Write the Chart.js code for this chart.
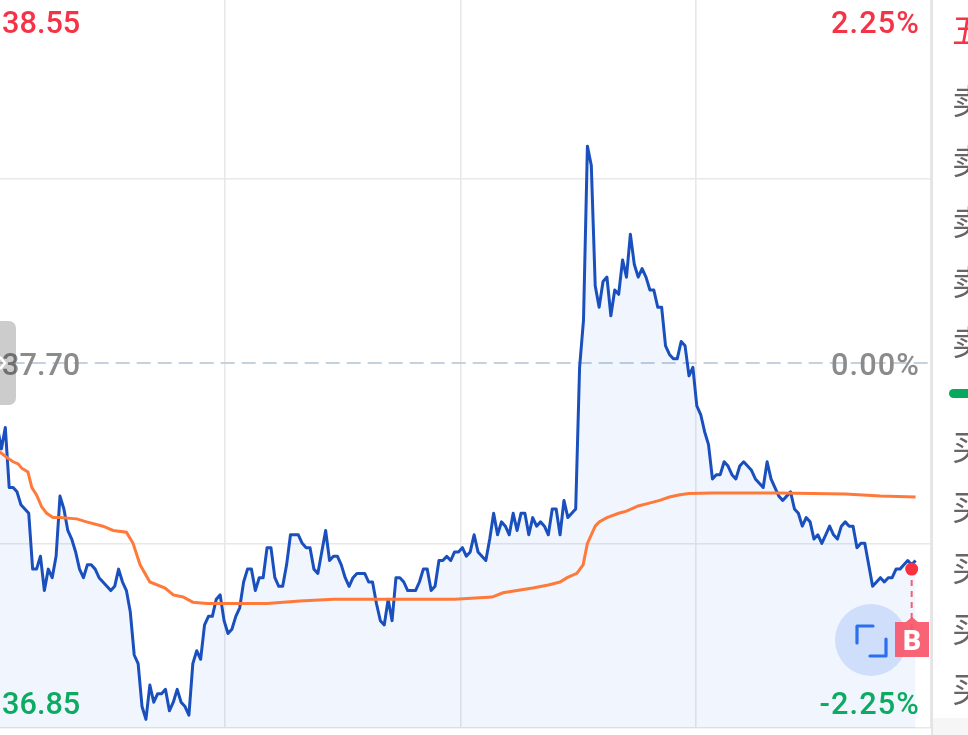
<!DOCTYPE html>
<html>
<head>
<meta charset="utf-8">
<script src="https://cdn.jsdelivr.net/npm/chart.js@4"></script>
<style>
html,body{margin:0;padding:0;width:968px;height:735px;overflow:hidden;background:#fff;font-family:Roboto,sans-serif}
#c{position:absolute;left:-20px;top:-10px}
.o{position:absolute}
#divider{left:931px;top:0;width:2px;height:735px;background:#e4e4e4}
#panel{left:933px;top:0;width:35px;height:735px;background:#fff}
#corner{left:933px;top:718px;width:35px;height:17px;background:#f6f6f6}
#handle{left:-8px;top:321px;width:24px;height:84px;border-radius:7px;background:rgba(0,0,0,.2)}
#pill{left:949px;top:389px;width:30px;height:9px;border-radius:4.5px;background:#0aa85e}
.q{position:absolute;left:952px;width:80px;height:40px;font:34px/40px "Noto Sans CJK SC";color:#666;white-space:nowrap}
</style>
</head>
<body>
<canvas id="c" width="960" height="745"></canvas>
<div id="divider" class="o"></div>
<div id="panel" class="o"></div>
<div id="corner" class="o"></div>
<div id="handle" class="o"></div>
<div id="pill" class="o"></div>
<svg class="o" style="left:0;top:350px" width="8" height="26"><path d="M0 7 L5 13 L0 19" fill="none" stroke="#fff" stroke-width="2.5"/></svg>
<svg class="o" style="left:833px;top:602px" width="80" height="80">
  <circle cx="38" cy="38" r="36" fill="#cfdffb"/>
  <path d="M40 24 H24 V41 M53 37 V54 H37" fill="none" stroke="#2a70ee" stroke-width="3.2" stroke-linecap="round" stroke-linejoin="round"/>
</svg>
<svg class="o" style="left:894px;top:612px" width="36" height="48">
  <path d="M1 10 H12 L18 5 L24 10 H35 V45 H1 Z" fill="#f9566a" fill-opacity=".92"/>
  <text x="18" y="38" text-anchor="middle" font-family="Roboto" font-weight="900" font-size="28" fill="#fff">B</text>
</svg>
<div class="q" style="top:9px;color:#f53246">五档</div>
<div class="q" style="top:80px">卖五</div>
<div class="q" style="top:140px">卖四</div>
<div class="q" style="top:201px">卖三</div>
<div class="q" style="top:261px">卖二</div>
<div class="q" style="top:321px">卖一</div>
<div class="q" style="top:426px">买一</div>
<div class="q" style="top:486px">买二</div>
<div class="q" style="top:547px">买三</div>
<div class="q" style="top:608px">买四</div>
<div class="q" style="top:668px">买五</div>
<script>
// Price per minute
const priceValues = [
37.52,37.53,37.55,37.50,37.55,37.41,37.41,37.40,37.37,37.36,
37.35,37.22,37.22,37.25,37.17,37.22,37.20,37.25,37.39,37.36,
37.31,37.29,37.26,37.22,37.20,37.23,37.23,37.22,37.20,37.19,
37.18,37.17,37.18,37.22,37.19,37.17,37.12,37.02,37.00,36.90,
36.87,36.95,36.91,36.93,36.93,36.94,36.89,36.91,36.94,36.91,
36.90,36.88,37.00,37.03,37.01,37.09,37.11,37.11,37.15,37.16,
37.10,37.07,37.08,37.11,37.13,37.19,37.22,37.22,37.17,37.20,
37.20,37.27,37.27,37.20,37.18,37.18,37.23,37.30,37.30,37.30,
37.28,37.27,37.27,37.22,37.21,37.26,37.31,37.24,37.25,37.25,
37.23,37.20,37.18,37.20,37.21,37.21,37.21,37.19,37.19,37.14,
37.10,37.09,37.15,37.10,37.20,37.20,37.19,37.17,37.17,37.17,
37.19,37.22,37.22,37.17,37.18,37.24,37.24,37.25,37.24,37.26,
37.26,37.27,37.25,37.26,37.30,37.26,37.25,37.24,37.29,37.35,
37.30,37.33,37.32,37.30,37.35,37.31,37.35,37.35,37.30,37.34,
37.32,37.33,37.32,37.30,37.36,37.36,37.30,37.38,37.34,37.35,
37.36,37.69,37.80,38.205,38.16,37.88,37.83,37.89,37.90,37.81,
37.87,37.86,37.94,37.90,38.00,37.93,37.90,37.92,37.90,37.87,
37.87,37.83,37.83,37.74,37.72,37.71,37.71,37.75,37.74,37.67,
37.69,37.60,37.58,37.54,37.51,37.43,37.44,37.44,37.47,37.46,
37.44,37.43,37.46,37.47,37.46,37.45,37.43,37.42,37.41,37.47,
37.43,37.41,37.39,37.38,37.39,37.40,37.36,37.35,37.32,37.34,
37.33,37.29,37.30,37.28,37.30,37.32,37.30,37.29,37.32,37.33,
37.32,37.32,37.27,37.28,37.28,37.23,37.18,37.19,37.20,37.19,
37.20,37.20,37.22,37.22,37.23,37.24,37.23,37.24
];
// Average price line, read at the minutes where its shape changes
const avgMinutes = [0,3,4.4,6,7.3,8.2,9.8,10.8,12,13.3,14.6,16.2,18,22.3,24.8,29,31.6,35,36.7,38.5,41,44.9,47,49.5,52,55.6,62,71,79.4,88,99,119,128.6,131.4,139,143,146,147.8,150.3,151.9,153,155,156,158,161,163,166,168.6,171.5,174,176.7,179,185,202,219,228,237];
const avgValues  = [37.51,37.49,37.48,37.47,37.465,37.455,37.446,37.41,37.393,37.365,37.35,37.34,37.34,37.337,37.33,37.32,37.31,37.306,37.28,37.23,37.19,37.176,37.16,37.155,37.143,37.14,37.14,37.14,37.146,37.15,37.15,37.15,37.155,37.165,37.176,37.183,37.19,37.20,37.21,37.23,37.28,37.32,37.33,37.34,37.35,37.355,37.367,37.373,37.38,37.388,37.393,37.396,37.397,37.397,37.395,37.39,37.388];
const yTickValues = [36.85,37.278,37.70,38.13,38.55];
const xTickValues = [60.25,120.5,180.75,241];
const previousClose = 37.70;
const priceLabels = [["38.55",38.55,"#f53246"],["37.70",37.70,"#8b8b8b"],["36.85",36.85,"#0dab62"]];
const percentLabels = ["2.25%","0.00%","-2.25%"];
const lastMinute = [236];
const lastPrice = [37.22];
const markerPrice = [37.06];

const labelPlugin = {
  id:'sideLabels',
  afterDatasetsDraw(chart){
    const {ctx, scales:{y}} = chart;
    const offs = [35, 12, -14];   // baseline offset from the tick line, per row
    ctx.save();
    ctx.font = '500 30.7px Roboto';
    ctx.textBaseline = 'alphabetic';
    priceLabels.forEach((r,i)=>{
      const py = y.getPixelForValue(r[1]) + offs[i];
      ctx.fillStyle = r[2];
      ctx.textAlign = 'left';
      ctx.letterSpacing = '0px';
      ctx.fillText(r[0], 22, py);
      ctx.textAlign = 'right';
      ctx.letterSpacing = '1.1px';
      ctx.fillText(percentLabels[i], 940, py);
    });
    ctx.restore();
  }
};

new Chart(document.getElementById('c'),{
  type:'line',
  plugins:[labelPlugin],
  data:{datasets:[
    {label:'last',order:0,data:lastMinute.map((m,i)=>({x:m,y:lastPrice[i]})),pointRadius:6.5,pointBackgroundColor:'#f9303f',pointBorderWidth:0,showLine:false},
    {label:'avg',order:1,data:avgMinutes.map((m,i)=>({x:m,y:avgValues[i]})),borderColor:'#ff7a3a',borderWidth:3,pointRadius:0,tension:0,fill:false},
    {label:'marker',order:1.5,data:[{x:lastMinute[0],y:lastPrice[0]},{x:lastMinute[0],y:markerPrice[0]}],borderColor:'#f2606f',borderWidth:2,borderDash:[6,5],pointRadius:0,fill:false},
    {label:'price',order:2,data:priceValues.map((v,i)=>({x:i,y:v})),borderColor:'#1a50bd',borderWidth:3,pointRadius:0,tension:0,borderJoinStyle:'round',fill:'start',backgroundColor:'rgba(46,108,240,0.07)'},
    {label:'close',order:4,data:[{x:0,y:previousClose},{x:241,y:previousClose}],borderColor:'#c5d1dd',borderWidth:1.8,borderDash:[14,7],pointRadius:0,fill:false}
  ]},
  options:{
    responsive:false,animation:false,
    layout:{padding:{left:9.67,right:8.8,top:8,bottom:7}},
    plugins:{legend:{display:false},tooltip:{enabled:false}},
    scales:{
      x:{type:'linear',min:0,max:241,
        afterBuildTicks(s){s.ticks=xTickValues.map(v=>({value:v}));},
        ticks:{display:false},border:{display:false},
        grid:{color:'#e8e8e8',lineWidth:1.6,drawTicks:false}},
      y:{type:'linear',min:36.85,max:38.55,
        afterBuildTicks(s){s.ticks=yTickValues.map(v=>({value:v}));},
        ticks:{display:false},border:{display:false},
        grid:{color:c=>c.tick&&c.tick.value===previousClose?'transparent':'#e8e8e8',lineWidth:1.6,drawTicks:false}}
    }
  }
});
</script>
</body>
</html>
